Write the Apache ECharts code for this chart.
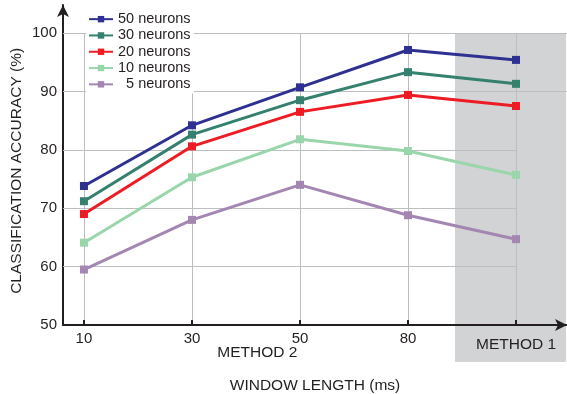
<!DOCTYPE html>
<html><head><meta charset="utf-8">
<script src="https://cdn.jsdelivr.net/npm/echarts@6/dist/echarts.min.js"></script>
<style>html,body{margin:0;padding:0;background:#fff}#c{width:567px;height:394px}</style>
</head><body><div id="c"></div><script>
const xLabels = ['10', '30', '50', '80', 'METHOD 1'];
const seriesNames = ['50 neurons', '30 neurons', '20 neurons', '10 neurons', '  5 neurons'];
const n50 = [73.8, 84.2, 90.7, 97.1, 95.4];
const n30 = [71.2, 82.6, 88.5, 93.3, 91.3];
const n20 = [69.0, 80.6, 86.5, 89.4, 87.5];
const n10 = [64.1, 75.3, 81.8, 79.8, 75.7];
const n5  = [59.5, 68.0, 74.0, 68.8, 64.7];
const yTicks = [50, 60, 70, 80, 90, 100];
const colors = ['#2e3192', '#35806e', '#ed1c24', '#9ad6ab', '#a386b1'];
const values = [n50, n30, n20, n10, n5];
const yTitle = 'CLASSIFICATION ACCURACY (%)';

const X_MIN = -0.194, X_MAX = 4.472, Y_MIN = 50, Y_MAX = 104.8;
const FONT = '"Liberation Sans", Arial, sans-serif';
const TXT = '#231f20';
const xIdx = xLabels.map((_, i) => i);

// grid lines (horizontal & vertical)
const gridLines = [];
yTicks.slice(1).forEach(v => {
  const end = v >= 90 ? X_MAX : xIdx[xIdx.length - 1];
  gridLines.push([{ coord: [X_MIN, v] }, { coord: [end, v] }]);
});
xIdx.forEach(i => {
  gridLines.push([{ coord: [i, Y_MIN] }, { coord: [i, 100] }]);
});

const chart = echarts.init(document.getElementById('c'), null, { renderer: 'canvas' });
const series = [{
  type: 'line', data: [], z: 1.5, silent: true,
  markLine: {
    z: 1.5, silent: true, symbol: 'none', label: { show: false },
    lineStyle: { color: '#bcbec0', width: 1, type: 'solid' },
    emphasis: { disabled: true },
    data: gridLines
  }
}];
values.forEach((arr, k) => {
  series.push({
    name: seriesNames[k], type: 'line', z: 2,
    data: arr.map((v, i) => [i, v]),
    symbol: 'rect', symbolSize: 8,
    lineStyle: { width: 3, color: colors[k] },
    itemStyle: { color: colors[k], borderWidth: 0, borderColor: colors[k] },
    emphasis: { disabled: true }
  });
});

chart.setOption({
  animation: false,
  backgroundColor: '#fff',
  textStyle: { fontFamily: FONT, color: TXT },
  grid: { left: 63, right: 0, top: 5, bottom: 69, containLabel: false, outerBoundsMode: 'none' },
  legend: {
    data: seriesNames, orient: 'vertical', left: 86, top: 10, z: 6,
    backgroundColor: '#fff', padding: [1, 3, 1, 2],
    itemWidth: 24, itemHeight: 8, itemGap: 0,
    textStyle: { fontFamily: FONT, fontSize: 14.5, color: TXT, lineHeight: 16.3 }
  },
  xAxis: {
    type: 'value', min: X_MIN, max: X_MAX, z: 3,
    name: 'WINDOW LENGTH (ms)', nameLocation: 'middle', nameGap: 53, nameMoveOverlap: false,
    nameTextStyle: { fontFamily: FONT, fontSize: 15.5, color: TXT },
    axisLine: { show: true, onZero: false, symbol: ['none', 'arrow'], symbolSize: [9, 12], lineStyle: { color: '#231f20', width: 2 } },
    axisTick: { show: true, inside: true, length: 5, customValues: xIdx, lineStyle: { color: '#231f20', width: 2 } },
    axisLabel: { customValues: xIdx, margin: 6, fontSize: 15, color: TXT, fontFamily: FONT,
      formatter: v => { const i = Math.round(v); return i === xIdx.length - 1 ? '{m|' + xLabels[i] + '}' : xLabels[i]; },
      rich: { m: { fontSize: 15.5, fontFamily: FONT, color: TXT, padding: [6, 0, 0, 0] } } },
    splitLine: { show: false }
  },
  yAxis: {
    type: 'value', min: Y_MIN, max: Y_MAX,
    axisLine: { show: true, onZero: false, symbol: ['none', 'arrow'], symbolSize: [9, 12], lineStyle: { color: '#231f20', width: 2 } },
    axisTick: { show: false, customValues: yTicks },
    axisLabel: { customValues: yTicks, margin: 6, fontSize: 15, color: TXT, fontFamily: FONT },
    splitLine: { show: false }
  },
  series: series
});

// shaded METHOD 1 region, METHOD 2 label, y-axis title
const shadeL = 3.435, shadeR = 4.463;
const pTL = chart.convertToPixel({ gridIndex: 0 }, [shadeL, 100]);
const pBR = chart.convertToPixel({ gridIndex: 0 }, [shadeR, Y_MIN]);
const pM2 = chart.convertToPixel({ gridIndex: 0 }, [1.605, Y_MIN]);
const pYT = chart.convertToPixel({ gridIndex: 0 }, [X_MIN, 76.4]);
chart.setOption({
  graphic: [
    { type: 'rect', z: 1, silent: true,
      shape: { x: pTL[0], y: pTL[1], width: pBR[0] - pTL[0], height: pBR[1] - pTL[1] + 37 },
      style: { fill: '#d1d3d4' } },
    { type: 'text', z: 3, silent: true, x: pM2[0], y: pM2[1] + 28,
      style: { text: 'METHOD 2', fontFamily: FONT, fontSize: 15.5, fill: TXT, align: 'center', verticalAlign: 'middle' } },
    { type: 'text', z: 3, silent: true, x: pYT[0] - 46, y: pYT[1], rotation: Math.PI / 2,
      style: { text: yTitle, fontFamily: FONT, fontSize: 15.5, fill: TXT, align: 'center', verticalAlign: 'middle' } }
  ]
});
</script></body></html>
